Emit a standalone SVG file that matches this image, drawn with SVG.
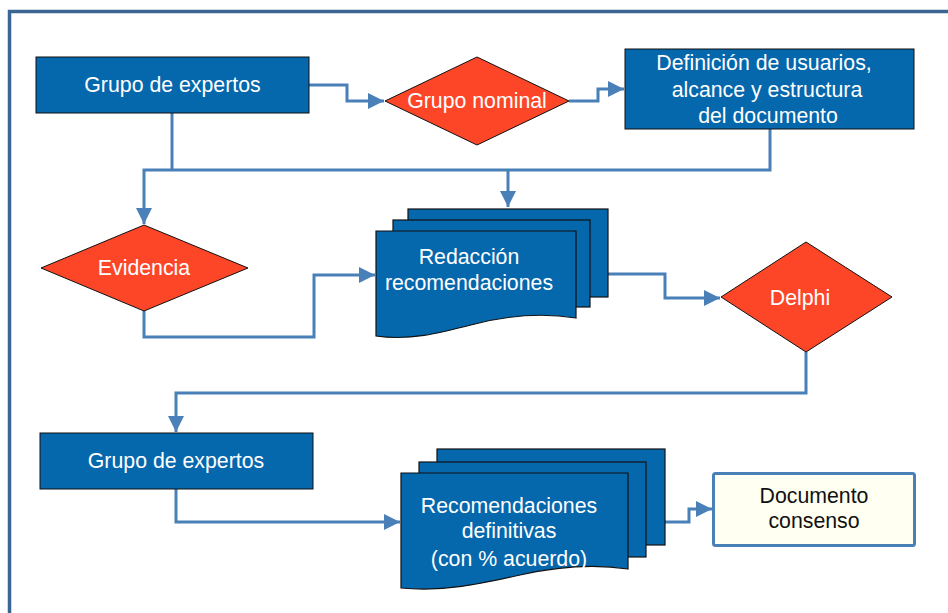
<svg xmlns="http://www.w3.org/2000/svg" width="948" height="613" viewBox="0 0 948 613">
<defs>
<style>
.box{fill:#0567ac;stroke:#111;stroke-width:1}
.dia{fill:#fd4628;stroke:#111;stroke-width:1}
.doc{fill:#0567ac;stroke:#111;stroke-width:1.2}
.t{font-family:"Liberation Sans",Arial,sans-serif;font-size:21.3px;fill:#fff;text-anchor:middle}
.tk{font-family:"Liberation Sans",Arial,sans-serif;font-size:21.3px;fill:#111;text-anchor:middle}
.c{fill:none;stroke:#4a80b8;stroke-width:3}
</style>
<marker id="ah" markerUnits="userSpaceOnUse" markerWidth="16" markerHeight="16" viewBox="0 0 16 16" refX="16" refY="8" orient="auto">
<path d="M0,0 L16,8 L0,16 z" fill="#4a80b8"/>
</marker>
</defs>
<rect x="9.5" y="11.5" width="960" height="620" fill="#fff" stroke="#3b6592" stroke-width="3.5"/>
<g id="connectors">
<path class="c" d="M309,85 H347 V101 H384" marker-end="url(#ah)"/>
<path class="c" d="M569,101 H598 V89 H624" marker-end="url(#ah)"/>
<path class="c" d="M172,113 V170"/>
<path class="c" d="M770,129 V170 H144 V224" marker-end="url(#ah)"/>
<path class="c" d="M508,170 V207" marker-end="url(#ah)"/>
<path class="c" d="M144,311 V337 H314 V275 H375" marker-end="url(#ah)"/>
<path class="c" d="M608,274 H665 V298 H720" marker-end="url(#ah)"/>
<path class="c" d="M806,352 V393 H176 V432" marker-end="url(#ah)"/>
<path class="c" d="M176,489 V522 H400" marker-end="url(#ah)"/>
<path class="c" d="M665,522 H689 V509 H712" marker-end="url(#ah)"/>
</g>
<g id="grupo-expertos-1">
<rect class="box" x="36" y="57" width="273" height="56"/>
<text class="t" x="172.5" y="92">Grupo de expertos</text>
</g>
<g id="grupo-nominal">
<polygon class="dia" points="385,101 477,57 569,101 477,145"/>
<text class="t" x="477" y="108">Grupo nominal</text>
</g>
<g id="definicion">
<rect class="box" x="625" y="49" width="289" height="80"/>
<text class="t" x="764" y="70">Definición de usuarios,</text>
<text class="t" x="767" y="97">alcance y estructura</text>
<text class="t" x="768" y="123">del documento</text>
</g>
<g id="evidencia">
<polygon class="dia" points="41,268 144,225 248,268 144,311"/>
<text class="t" x="144" y="275">Evidencia</text>
</g>
<g id="redaccion">
<rect class="doc" x="408" y="209" width="200" height="88"/>
<rect class="doc" x="393" y="220" width="197" height="87"/>
<path class="doc" d="M376,231 H576 V318 C545,313 510,315 475,324 C440,333 410,341 376,336 Z"/>
<text class="t" x="469" y="264">Redacción</text>
<text class="t" x="469" y="290">recomendaciones</text>
</g>
<g id="delphi">
<polygon class="dia" points="721,297 806,242 892,297 806,352"/>
<text class="t" x="800" y="305">Delphi</text>
</g>
<g id="grupo-expertos-2">
<rect class="box" x="40" y="433" width="273" height="56"/>
<text class="t" x="176" y="468">Grupo de expertos</text>
</g>
<g id="recomendaciones">
<rect class="doc" x="437" y="449" width="228" height="96"/>
<rect class="doc" x="419" y="462" width="227" height="95"/>
<path class="doc" d="M401,473 H628 V569 C595,564 560,566 520,575 C480,584 445,592 401,588 Z"/>
<text class="t" x="509" y="513">Recomendaciones</text>
<text class="t" x="509" y="538">definitivas</text>
<text class="t" x="509" y="566">(con % acuerdo)</text>
</g>
<g id="documento-consenso">
<rect x="713.5" y="473.5" width="201" height="72" rx="2" fill="#fffff2" stroke="#4a80b8" stroke-width="3"/>
<text class="tk" x="814" y="503">Documento</text>
<text class="tk" x="814" y="528">consenso</text>
</g>
</svg>
